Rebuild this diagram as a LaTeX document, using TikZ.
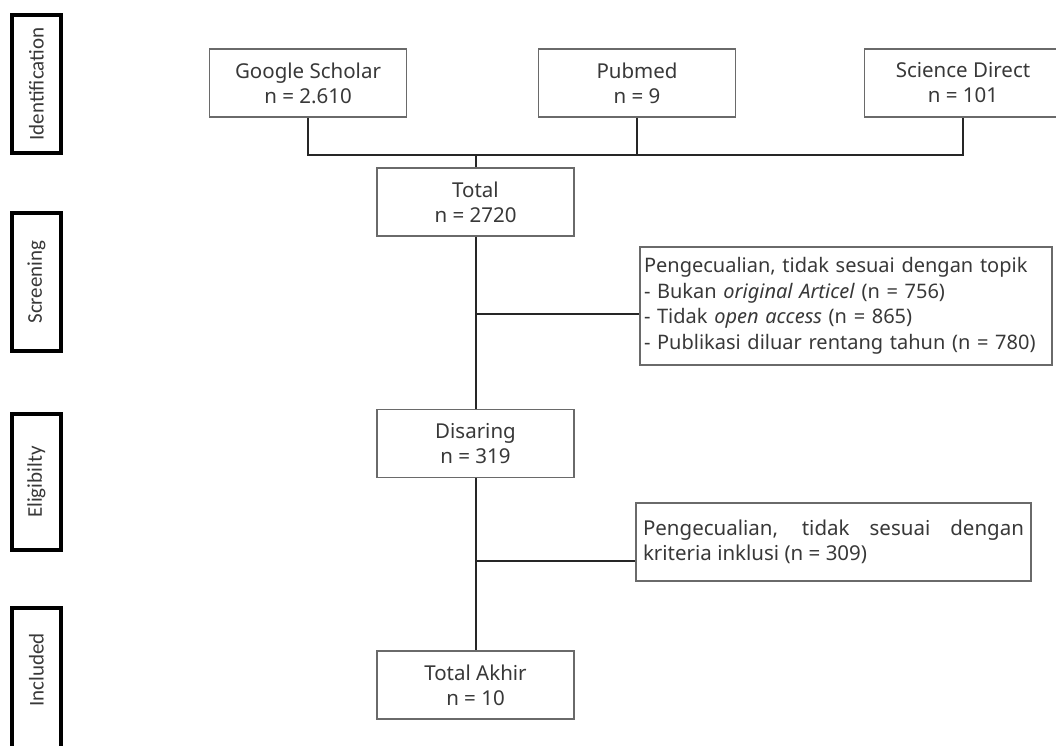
\documentclass[tikz,border=0pt]{standalone}
\usepackage{fontspec}
\setmainfont{Noto Sans}
\newfontfamily\stagefont{Carlito}
\definecolor{boxgray}{HTML}{6A6A6A}
\definecolor{txtgray}{HTML}{383838}
\definecolor{linegray}{HTML}{262626}
\tolerance=9999
\hyphenpenalty=10000
\begin{document}
\begin{tikzpicture}[x=1pt, y=-1pt,
        box/.style={draw=boxgray, line width=1.2pt, text=txtgray, align=center,
            minimum width=197pt, minimum height=68pt, inner sep=4pt,
            font=\fontsize{20.5}{25}\selectfont},
        exclbox/.style={box, minimum width=0pt, inner sep=6pt},
        stagebox/.style={draw=black, line width=3.6pt, rotate=90, text=txtgray,
            minimum height=49pt, font=\stagefont\fontsize{21}{25}\selectfont},
        conn/.style={draw=linegray, line width=2pt}]
        \useasboundingbox (0,0) rectangle (1056,745);
        \pgfmathsetmacro{\midx}{475.5} %garis tengah alur
        \pgfmathsetmacro{\topy}{83}

        % tahap di sisi kiri (Included terpotong di bawah)
        \foreach \nm/\cy/\len/\pad/\t in
        {ident/84/138.5/0/Identification,
            screen/282/138.5/0/Screening,
            elig/482/136/0/Eligibilty,
            incl/684/152/28/Included
        }
        {
            \node[stagebox, minimum width=\len pt] (\nm) at (36.5,\cy) {\hspace*{\pad pt}\t};
        };

        % sumber data
        \foreach \nm/\cx/\t/\val in
        {gs/308/Google Scholar/2.610,
            pm/637/Pubmed/9,
            sd/963/Science Direct/101
        }
        {
            \node[box] (\nm) at (\cx,\topy) {\t\\n = \val};
        };

        \node[box] (total) at (\midx,202) {Total\\n = 2720};
        \node[box] (disaring) at (\midx,443.5) {Disaring\\n = 319};
        \node[box] (akhir) at (\midx,685) {Total Akhir\\n = 10};

        \node[exclbox, text width=404pt, align=left, inner sep=4pt, minimum height=118pt,
            font=\fontsize{20}{25.5}\selectfont] (excl1) at (846,306)
        {Pengecualian, tidak sesuai dengan topik\\
            - Bukan \textit{original Articel} (n = 756)\\
            - Tidak \textit{open access} (n = 865)\\
            - Publikasi diluar rentang tahun (n = 780)};
        \node[exclbox, text width=381pt, align=justify, inner sep=7pt, minimum height=78pt] (excl2) at (833.5,542)
        {Pengecualian, tidak sesuai dengan kriteria inklusi (n = 309)};

        \coordinate (bus) at (\midx,155);
        \coordinate (br1) at (\midx,314);
        \coordinate (br2) at (\midx,561);

        \draw[conn] (gs.south) |- (bus) -| (sd.south);
        \draw[conn] (pm.south) -- (pm.south |- bus);
        \draw[conn] (bus) -- (total.north);
        \draw[conn] (total.south) -- (disaring.north);
        \draw[conn] (br1) -- (br1 -| excl1.west);
        \draw[conn] (disaring.south) -- (akhir.north);
        \draw[conn] (br2) -- (br2 -| excl2.west);
\end{tikzpicture}
\end{document}
